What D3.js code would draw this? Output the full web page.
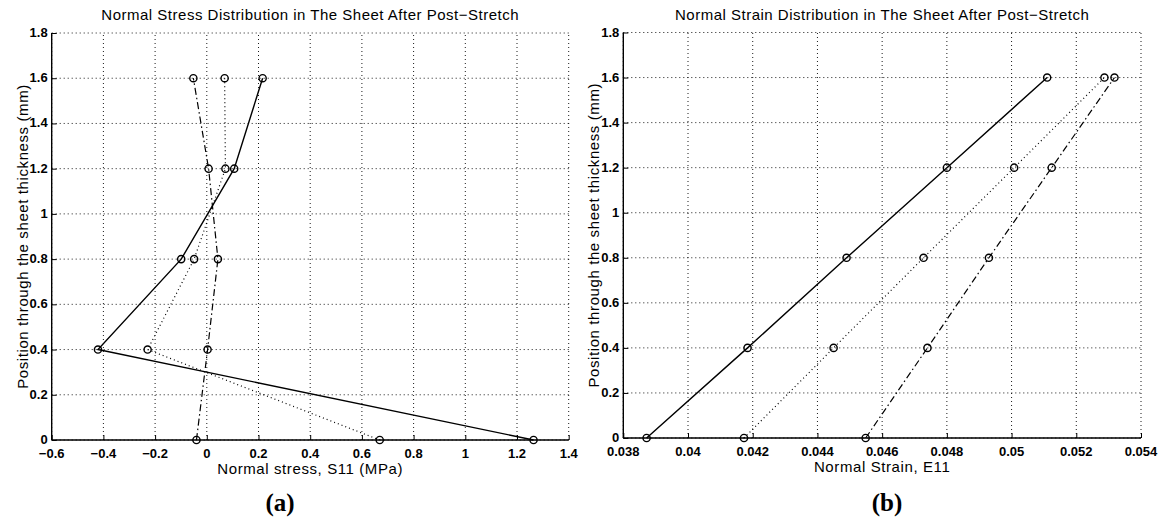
<!DOCTYPE html>
<html>
<head>
<meta charset="utf-8">
<title>Normal stress / strain distribution</title>
<script src="https://cdn.jsdelivr.net/npm/d3@7"></script>
<style>
body { margin: 0; background: #fff; }
svg text { font-family: "Liberation Sans", Arial, Helvetica, sans-serif; fill: #000; }
.tick-label { font-size: 13px; font-weight: bold; }
.title { font-size: 15px; letter-spacing: 0.5px; }
.axis-label { font-size: 15px; letter-spacing: 0.6px; }
.panel-label { font-family: "Liberation Serif", "Times New Roman", serif !important; font-size: 25px; font-weight: bold; }
.grid line { stroke: #000; stroke-width: 0.9; stroke-dasharray: 1,3; }
.axis-line { stroke: #000; stroke-width: 1.4; }
</style>
</head>
<body>
<div id="chart"></div>
<script>
// position through the sheet thickness (mm)
var thickness = [0, 0.4, 0.8, 1.2, 1.6];

// (a) normal stress S11 (MPa)
var stressSolid   = [1.264, -0.421, -0.099, 0.106, 0.216];
var stressDotted  = [0.669, -0.229, -0.049, 0.072, 0.069];
var stressDashDot = [-0.040, 0.003, 0.043, 0.007, -0.052];

// (b) normal strain E11
var strainSolid   = [0.03872, 0.04184, 0.04490, 0.04800, 0.05110];
var strainDotted  = [0.04173, 0.04450, 0.04728, 0.05008, 0.05287];
var strainDashDot = [0.04549, 0.04740, 0.04930, 0.05124, 0.05318];

var stressTicks = [-0.6, -0.4, -0.2, 0, 0.2, 0.4, 0.6, 0.8, 1, 1.2, 1.4];
var strainTicks = [0.038, 0.04, 0.042, 0.044, 0.046, 0.048, 0.05, 0.052, 0.054];
var yTicks = [0, 0.2, 0.4, 0.6, 0.8, 1, 1.2, 1.4, 1.6, 1.8];

var width = 1161, height = 521;

var svg = d3.select('#chart').append('svg')
    .attr('width', width)
    .attr('height', height);

var styles = {
    solid:   null,
    dotted:  '1,3',
    dashdot: '7,3,1.5,3'
};

function fmt(d) {
    return String(d).replace('-', '\u2212');
}

function drawPanel(opt) {
    var x = d3.scaleLinear().domain(opt.xDomain).range([opt.left, opt.right]);
    var y = d3.scaleLinear().domain([0, 1.8]).range([opt.bottom, opt.top]);

    var g = svg.append('g');

    // grid
    var grid = g.append('g').attr('class', 'grid');
    grid.selectAll('.gx')
        .data(opt.xTicks)
      .enter().append('line')
        .attr('x1', d => x(d)).attr('x2', d => x(d))
        .attr('y1', y(0)).attr('y2', y(1.8));
    grid.selectAll('.gy')
        .data(yTicks)
      .enter().append('line')
        .attr('x1', x(opt.xDomain[0])).attr('x2', x(opt.xDomain[1]))
        .attr('y1', d => y(d)).attr('y2', d => y(d));

    // axes (left + bottom, ticks pointing inward)
    var xAxis = d3.axisTop(x).tickValues(opt.xTicks).tickSize(5).tickFormat('');
    var yAxis = d3.axisRight(y).tickValues(yTicks).tickSize(5).tickFormat('');
    var gx = g.append('g').attr('transform', 'translate(0,' + y(0) + ')').call(xAxis);
    var gy = g.append('g').attr('transform', 'translate(' + x(opt.xDomain[0]) + ',0)').call(yAxis);
    [gx, gy].forEach(function(a) {
        a.select('.domain').remove();
        a.selectAll('line').attr('stroke', '#000').attr('stroke-width', 1);
    });
    g.append('line').attr('class', 'axis-line')
        .attr('x1', x(opt.xDomain[0])).attr('x2', x(opt.xDomain[1]))
        .attr('y1', y(0)).attr('y2', y(0));
    g.append('line').attr('class', 'axis-line')
        .attr('x1', x(opt.xDomain[0])).attr('x2', x(opt.xDomain[0]))
        .attr('y1', y(0)).attr('y2', y(1.8));

    // tick labels
    g.selectAll('.xl')
        .data(opt.xTicks)
      .enter().append('text')
        .attr('class', 'tick-label')
        .attr('x', d => x(d))
        .attr('y', y(0) + 18)
        .attr('text-anchor', 'middle')
        .text(fmt);
    g.selectAll('.yl')
        .data(yTicks)
      .enter().append('text')
        .attr('class', 'tick-label')
        .attr('x', x(opt.xDomain[0]) - 4)
        .attr('y', d => y(d) + 4)
        .attr('text-anchor', 'end')
        .text(fmt);

    // series
    var line = d3.line()
        .x(d => x(d[0]))
        .y(d => y(d[1]));
    opt.series.forEach(function(s) {
        var pts = s.values.map((v, i) => [v, thickness[i]]);
        g.append('path')
            .datum(pts)
            .attr('d', line)
            .attr('fill', 'none')
            .attr('stroke', '#000')
            .attr('stroke-width', s.style == 'solid' ? 1.4 : 1.2)
            .attr('stroke-dasharray', styles[s.style]);
        g.selectAll(null)
            .data(pts)
          .enter().append('circle')
            .attr('cx', d => x(d[0]))
            .attr('cy', d => y(d[1]))
            .attr('r', 3.6)
            .attr('fill', 'none')
            .attr('stroke', '#000')
            .attr('stroke-width', 1.4);
    });

    // labels
    var cx = (opt.left + opt.right) / 2;
    g.append('text').attr('class', 'title')
        .attr('x', cx).attr('y', 20)
        .attr('text-anchor', 'middle')
        .text(opt.title);
    g.append('text').attr('class', 'axis-label')
        .attr('x', cx).attr('y', y(0) + 34)
        .attr('text-anchor', 'middle')
        .text(opt.xLabel);
    g.append('text').attr('class', 'axis-label')
        .attr('transform', 'translate(' + opt.yLabelX + ',' + ((opt.top + opt.bottom) / 2) + ') rotate(-90)')
        .attr('text-anchor', 'middle')
        .text('Position through the sheet thickness (mm)');
    g.append('text').attr('class', 'panel-label')
        .attr('x', opt.panelX).attr('y', 511)
        .attr('text-anchor', 'middle')
        .text(opt.panel);
}

drawPanel({
    left: 51.7, right: 568.7, top: 33, bottom: 440,
    xDomain: [-0.6, 1.4], xTicks: stressTicks,
    series: [
        { values: stressSolid, style: 'solid' },
        { values: stressDotted, style: 'dotted' },
        { values: stressDashDot, style: 'dashdot' }
    ],
    title: 'Normal Stress Distribution in The Sheet After Post\u2212Stretch',
    xLabel: 'Normal stress, S11 (MPa)',
    yLabelX: 28, panelX: 280, panel: '(a)'
});

drawPanel({
    left: 623.3, right: 1141, top: 32.5, bottom: 438,
    xDomain: [0.038, 0.054], xTicks: strainTicks,
    series: [
        { values: strainSolid, style: 'solid' },
        { values: strainDotted, style: 'dotted' },
        { values: strainDashDot, style: 'dashdot' }
    ],
    title: 'Normal Strain Distribution in The Sheet After Post\u2212Stretch',
    xLabel: 'Normal Strain, E11',
    yLabelX: 599, panelX: 887, panel: '(b)'
});
</script>
</body>
</html>
